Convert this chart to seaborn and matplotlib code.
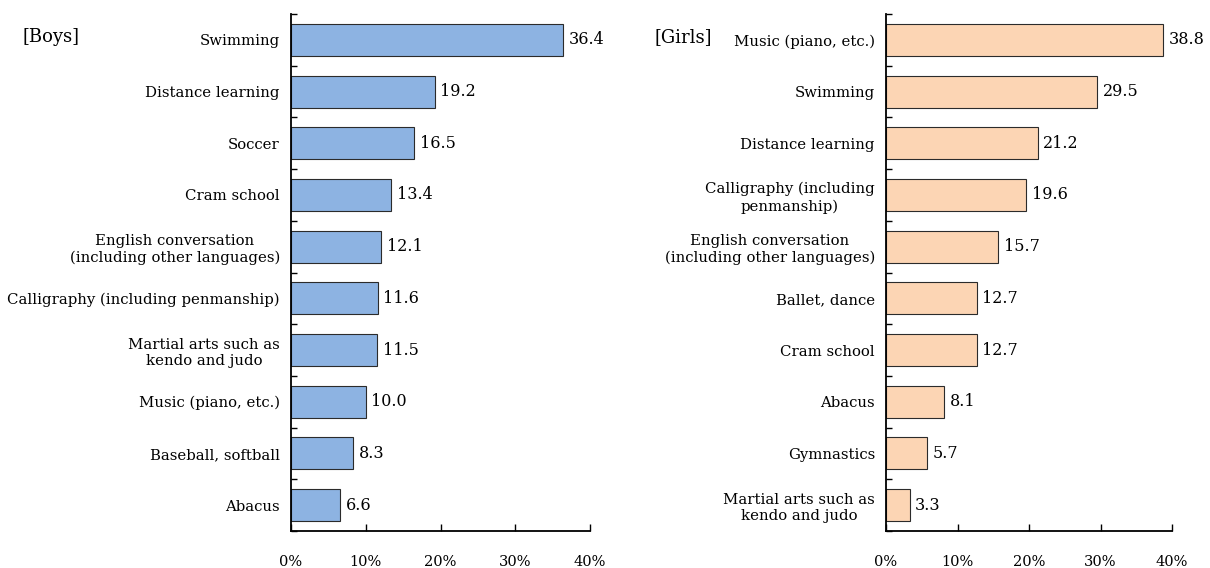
import matplotlib
matplotlib.use("Agg")
import matplotlib.pyplot as plt
import seaborn as sns
import pandas as pd
import numpy as np

boys_labels = [
    "Swimming",
    "Distance learning",
    "Soccer",
    "Cram school",
    "English conversation\n(including other languages)",
    "Calligraphy (including penmanship)",
    "Martial arts such as\nkendo and judo",
    "Music (piano, etc.)",
    "Baseball, softball",
    "Abacus",
]
boys_values = [36.4, 19.2, 16.5, 13.4, 12.1, 11.6, 11.5, 10.0, 8.3, 6.6]

girls_labels = [
    "Music (piano, etc.)",
    "Swimming",
    "Distance learning",
    "Calligraphy (including\npenmanship)",
    "English conversation\n(including other languages)",
    "Ballet, dance",
    "Cram school",
    "Abacus",
    "Gymnastics",
    "Martial arts such as\nkendo and judo",
]
girls_values = [38.8, 29.5, 21.2, 19.6, 15.7, 12.7, 12.7, 8.1, 5.7, 3.3]

x_ticks = [0, 10, 20, 30, 40]
x_tick_labels = ["0%", "10%", "20%", "30%", "40%"]

sns.set_theme(style="white")
plt.rcParams["font.family"] = ["DejaVu Serif"]
plt.rcParams["text.color"] = "black"
plt.rcParams["xtick.color"] = "black"
plt.rcParams["ytick.color"] = "black"
plt.rcParams["xtick.labelcolor"] = "black"
plt.rcParams["ytick.labelcolor"] = "black"

fig = plt.figure(figsize=(12.1, 5.68), dpi=100)
ax_b = fig.add_axes([291 / 1210, 1 - 531 / 568, 299 / 1210, 517 / 568])
ax_g = fig.add_axes([886 / 1210, 1 - 531 / 568, 286 / 1210, 517 / 568])


def draw_panel(ax, labels, values, color, title, title_x):
    df = pd.DataFrame({"item": labels, "pct": values})
    sns.barplot(data=df, x="pct", y="item", orient="h", ax=ax, color=color,
                width=0.62, edgecolor="#2b2b2b", linewidth=0.8, saturation=1)
    n = len(labels)
    ax.set_xlim(0, 40)
    ax.set_ylim(n - 0.5, -0.5)
    ax.set_xlabel("")
    ax.set_ylabel("")

    for s in ("top", "right"):
        ax.spines[s].set_visible(False)
    for s in ("left", "bottom"):
        ax.spines[s].set_color("black")
        ax.spines[s].set_linewidth(1.3)

    ax.set_xticks(x_ticks)
    ax.set_xticklabels(x_tick_labels, fontsize=10.5, color="black")
    ax.tick_params(axis="x", direction="in", length=5, width=1, color="black",
                   pad=17, bottom=True)

    ax.set_yticks(range(n))
    ax.set_yticklabels(labels, fontsize=10.7, multialignment="center",
                       linespacing=1.25, color="black")
    ax.tick_params(axis="y", which="major", length=0, pad=8)
    ax.set_yticks(np.arange(-0.5, n, 1.0), minor=True)
    ax.tick_params(axis="y", which="minor", direction="in", length=4, width=1,
                   color="black", left=True)

    for i, v in enumerate(values):
        ax.annotate(f"{v:.1f}", xy=(v, i), xytext=(4, 0),
                    textcoords="offset points", ha="left", va="center",
                    fontsize=11.5, color="black")

    fig.text(title_x, 1 - 37 / 568, title, ha="left", va="center",
             fontsize=13, color="black")


draw_panel(ax_b, boys_labels, boys_values, "#8DB3E2", "[Boys]", 22 / 1210)
draw_panel(ax_g, girls_labels, girls_values, "#FCD5B4", "[Girls]", 655 / 1210)

fig.savefig("out.png", dpi=100)
